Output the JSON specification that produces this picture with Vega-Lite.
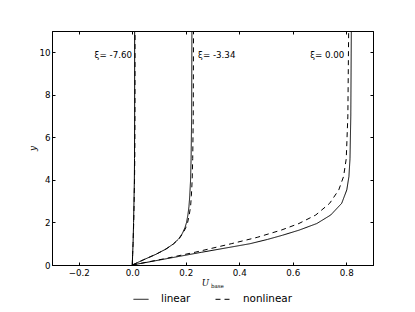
{
  "$schema": "https://vega.github.io/schema/vega-lite/v6.json",
  "width": 321,
  "height": 234,
  "autosize": {"type": "none"},
  "padding": {"left": 52, "top": 31, "right": 42, "bottom": 47},
  "background": "white",
  "datasets": {
    "profiles": [
      {"xi": "-7.60", "model": "linear", "y": 0, "u": 0},
      {"xi": "-7.60", "model": "linear", "y": 0.5, "u": 0.0015},
      {"xi": "-7.60", "model": "linear", "y": 1, "u": 0.003},
      {"xi": "-7.60", "model": "linear", "y": 2, "u": 0.005},
      {"xi": "-7.60", "model": "linear", "y": 3, "u": 0.0065},
      {"xi": "-7.60", "model": "linear", "y": 4, "u": 0.0078},
      {"xi": "-7.60", "model": "linear", "y": 5, "u": 0.0085},
      {"xi": "-7.60", "model": "linear", "y": 7, "u": 0.009},
      {"xi": "-7.60", "model": "linear", "y": 11, "u": 0.009},
      {"xi": "-7.60", "model": "nonlinear", "y": 0, "u": 0},
      {"xi": "-7.60", "model": "nonlinear", "y": 0.5, "u": 0.0015},
      {"xi": "-7.60", "model": "nonlinear", "y": 1, "u": 0.003},
      {"xi": "-7.60", "model": "nonlinear", "y": 2, "u": 0.0055},
      {"xi": "-7.60", "model": "nonlinear", "y": 3, "u": 0.0072},
      {"xi": "-7.60", "model": "nonlinear", "y": 4, "u": 0.0085},
      {"xi": "-7.60", "model": "nonlinear", "y": 5, "u": 0.0095},
      {"xi": "-7.60", "model": "nonlinear", "y": 7, "u": 0.0102},
      {"xi": "-7.60", "model": "nonlinear", "y": 11, "u": 0.0105},
      {"xi": "-3.34", "model": "linear", "y": 0, "u": 0},
      {"xi": "-3.34", "model": "linear", "y": 0.25, "u": 0.043},
      {"xi": "-3.34", "model": "linear", "y": 0.5, "u": 0.088},
      {"xi": "-3.34", "model": "linear", "y": 0.75, "u": 0.126},
      {"xi": "-3.34", "model": "linear", "y": 1.0, "u": 0.155},
      {"xi": "-3.34", "model": "linear", "y": 1.25, "u": 0.175},
      {"xi": "-3.34", "model": "linear", "y": 1.5, "u": 0.188},
      {"xi": "-3.34", "model": "linear", "y": 1.75, "u": 0.197},
      {"xi": "-3.34", "model": "linear", "y": 2.0, "u": 0.203},
      {"xi": "-3.34", "model": "linear", "y": 2.35, "u": 0.208},
      {"xi": "-3.34", "model": "linear", "y": 2.75, "u": 0.212},
      {"xi": "-3.34", "model": "linear", "y": 3.25, "u": 0.215},
      {"xi": "-3.34", "model": "linear", "y": 4, "u": 0.218},
      {"xi": "-3.34", "model": "linear", "y": 5, "u": 0.22},
      {"xi": "-3.34", "model": "linear", "y": 7, "u": 0.222},
      {"xi": "-3.34", "model": "linear", "y": 11, "u": 0.223},
      {"xi": "-3.34", "model": "nonlinear", "y": 0, "u": 0},
      {"xi": "-3.34", "model": "nonlinear", "y": 0.25, "u": 0.043},
      {"xi": "-3.34", "model": "nonlinear", "y": 0.5, "u": 0.088},
      {"xi": "-3.34", "model": "nonlinear", "y": 0.75, "u": 0.126},
      {"xi": "-3.34", "model": "nonlinear", "y": 1.0, "u": 0.155},
      {"xi": "-3.34", "model": "nonlinear", "y": 1.25, "u": 0.176},
      {"xi": "-3.34", "model": "nonlinear", "y": 1.5, "u": 0.19},
      {"xi": "-3.34", "model": "nonlinear", "y": 1.75, "u": 0.2},
      {"xi": "-3.34", "model": "nonlinear", "y": 2.0, "u": 0.207},
      {"xi": "-3.34", "model": "nonlinear", "y": 2.35, "u": 0.213},
      {"xi": "-3.34", "model": "nonlinear", "y": 2.75, "u": 0.218},
      {"xi": "-3.34", "model": "nonlinear", "y": 3.25, "u": 0.221},
      {"xi": "-3.34", "model": "nonlinear", "y": 4, "u": 0.224},
      {"xi": "-3.34", "model": "nonlinear", "y": 5, "u": 0.226},
      {"xi": "-3.34", "model": "nonlinear", "y": 7, "u": 0.228},
      {"xi": "-3.34", "model": "nonlinear", "y": 11, "u": 0.229},
      {"xi": "0.00", "model": "linear", "y": 0, "u": 0},
      {"xi": "0.00", "model": "linear", "y": 0.3, "u": 0.13},
      {"xi": "0.00", "model": "linear", "y": 0.6, "u": 0.26},
      {"xi": "0.00", "model": "linear", "y": 1.0, "u": 0.44},
      {"xi": "0.00", "model": "linear", "y": 1.2, "u": 0.505},
      {"xi": "0.00", "model": "linear", "y": 1.4, "u": 0.562},
      {"xi": "0.00", "model": "linear", "y": 1.64, "u": 0.624},
      {"xi": "0.00", "model": "linear", "y": 1.95, "u": 0.69},
      {"xi": "0.00", "model": "linear", "y": 2.35, "u": 0.742},
      {"xi": "0.00", "model": "linear", "y": 2.9, "u": 0.783},
      {"xi": "0.00", "model": "linear", "y": 3.53, "u": 0.802},
      {"xi": "0.00", "model": "linear", "y": 4.16, "u": 0.81},
      {"xi": "0.00", "model": "linear", "y": 5, "u": 0.814},
      {"xi": "0.00", "model": "linear", "y": 7, "u": 0.817},
      {"xi": "0.00", "model": "linear", "y": 11, "u": 0.819},
      {"xi": "0.00", "model": "nonlinear", "y": 0, "u": 0},
      {"xi": "0.00", "model": "nonlinear", "y": 0.3, "u": 0.123},
      {"xi": "0.00", "model": "nonlinear", "y": 0.6, "u": 0.235},
      {"xi": "0.00", "model": "nonlinear", "y": 1.0, "u": 0.37},
      {"xi": "0.00", "model": "nonlinear", "y": 1.3, "u": 0.467},
      {"xi": "0.00", "model": "nonlinear", "y": 1.64, "u": 0.557},
      {"xi": "0.00", "model": "nonlinear", "y": 1.95, "u": 0.623},
      {"xi": "0.00", "model": "nonlinear", "y": 2.35, "u": 0.686},
      {"xi": "0.00", "model": "nonlinear", "y": 2.9, "u": 0.738},
      {"xi": "0.00", "model": "nonlinear", "y": 3.53, "u": 0.772},
      {"xi": "0.00", "model": "nonlinear", "y": 4.16, "u": 0.79},
      {"xi": "0.00", "model": "nonlinear", "y": 5, "u": 0.8},
      {"xi": "0.00", "model": "nonlinear", "y": 7, "u": 0.806},
      {"xi": "0.00", "model": "nonlinear", "y": 11, "u": 0.809}
    ],
    "labelsRight": [
      {"label": "ξ= -7.60", "u": -0.001, "y": 9.87},
      {"label": "ξ= 0.00", "u": 0.793, "y": 9.87}
    ],
    "labelsLeft": [
      {"label": "ξ= -3.34", "u": 0.246, "y": 9.87}
    ]
  },
  "layer": [
    {
      "data": {"name": "profiles"},
      "mark": {"type": "line", "color": "black", "strokeWidth": 1, "clip": true},
      "encoding": {
        "x": {
          "field": "u", "type": "quantitative",
          "scale": {"domain": [-0.3, 0.9], "nice": false, "zero": false},
          "axis": {
            "orient": "bottom",
            "values": [-0.2, 0, 0.2, 0.4, 0.6, 0.8],
            "format": ".1f",
            "title": "U",
            "titleFont": "DejaVu Serif",
            "titleFontStyle": "italic",
            "titleFontWeight": "normal",
            "titleFontSize": 8.7,
            "titleColor": "black",
            "titleX": 153,
            "titleY": 17,
            "titleAlign": "center",
            "titleBaseline": "middle",
            "labelPadding": 6
          }
        },
        "y": {
          "field": "y", "type": "quantitative",
          "scale": {"domain": [0, 11], "nice": false, "zero": false},
          "axis": {
            "orient": "left",
            "values": [0, 2, 4, 6, 8, 10],
            "format": "d",
            "title": "y",
            "titleFont": "DejaVu Serif",
            "titleFontStyle": "italic",
            "titleFontWeight": "normal",
            "titleFontSize": 8.7,
            "titleColor": "black",
            "titleX": -20,
            "titleY": 117,
            "titleAngle": -90,
            "titleAlign": "center",
            "titleBaseline": "middle",
            "labelPadding": 5
          }
        },
        "detail": {"field": "xi"},
        "order": {"field": "y", "type": "quantitative"},
        "strokeDash": {
          "field": "model", "type": "nominal",
          "scale": {"domain": ["linear", "nonlinear"], "range": [[1, 0], [5, 4]]},
          "legend": {
            "orient": "none",
            "direction": "horizontal",
            "legendX": 81,
            "legendY": 260,
            "title": null,
            "symbolType": "stroke",
            "symbolSize": 225,
            "symbolStrokeColor": "black",
            "symbolStrokeWidth": 1,
            "labelFont": "DejaVu Sans",
            "labelFontSize": 10.4,
            "labelColor": "black",
            "labelOffset": 12,
            "columnPadding": 22,
            "padding": 0
          }
        }
      }
    },
    {
      "data": {"name": "labelsRight"},
      "mark": {"type": "text", "align": "right", "baseline": "middle", "font": "DejaVu Sans", "fontSize": 8.7, "color": "black"},
      "encoding": {
        "x": {"field": "u", "type": "quantitative", "axis": {"orient": "top", "values": [-0.2, 0, 0.2, 0.4, 0.6, 0.8], "labels": false, "title": null}},
        "y": {"field": "y", "type": "quantitative", "axis": {"orient": "right", "values": [0, 2, 4, 6, 8, 10], "labels": false, "title": null}},
        "text": {"field": "label"}
      }
    },
    {
      "data": {"name": "labelsLeft"},
      "mark": {"type": "text", "align": "left", "baseline": "middle", "font": "DejaVu Sans", "fontSize": 8.7, "color": "black"},
      "encoding": {
        "x": {"field": "u", "type": "quantitative", "axis": null},
        "y": {"field": "y", "type": "quantitative", "axis": null},
        "text": {"field": "label"}
      }
    },
    {
      "data": {"values": [{"sub": "base"}]},
      "mark": {"type": "text", "align": "left", "baseline": "middle", "font": "DejaVu Serif", "fontSize": 5.5, "color": "black"},
      "encoding": {
        "x": {"datum": 0.294, "type": "quantitative", "axis": null},
        "y": {"datum": -0.97, "type": "quantitative", "axis": null},
        "text": {"field": "sub"}
      }
    }
  ],
  "resolve": {"axis": {"x": "independent", "y": "independent"}},
  "config": {
    "view": {"stroke": "black", "strokeWidth": 1},
    "axis": {
      "grid": false,
      "domainColor": "black",
      "domainWidth": 1,
      "tickColor": "black",
      "tickWidth": 1,
      "tickSize": -3,
      "labelFont": "DejaVu Sans",
      "labelFontSize": 8.7,
      "labelColor": "black"
    }
  }
}
